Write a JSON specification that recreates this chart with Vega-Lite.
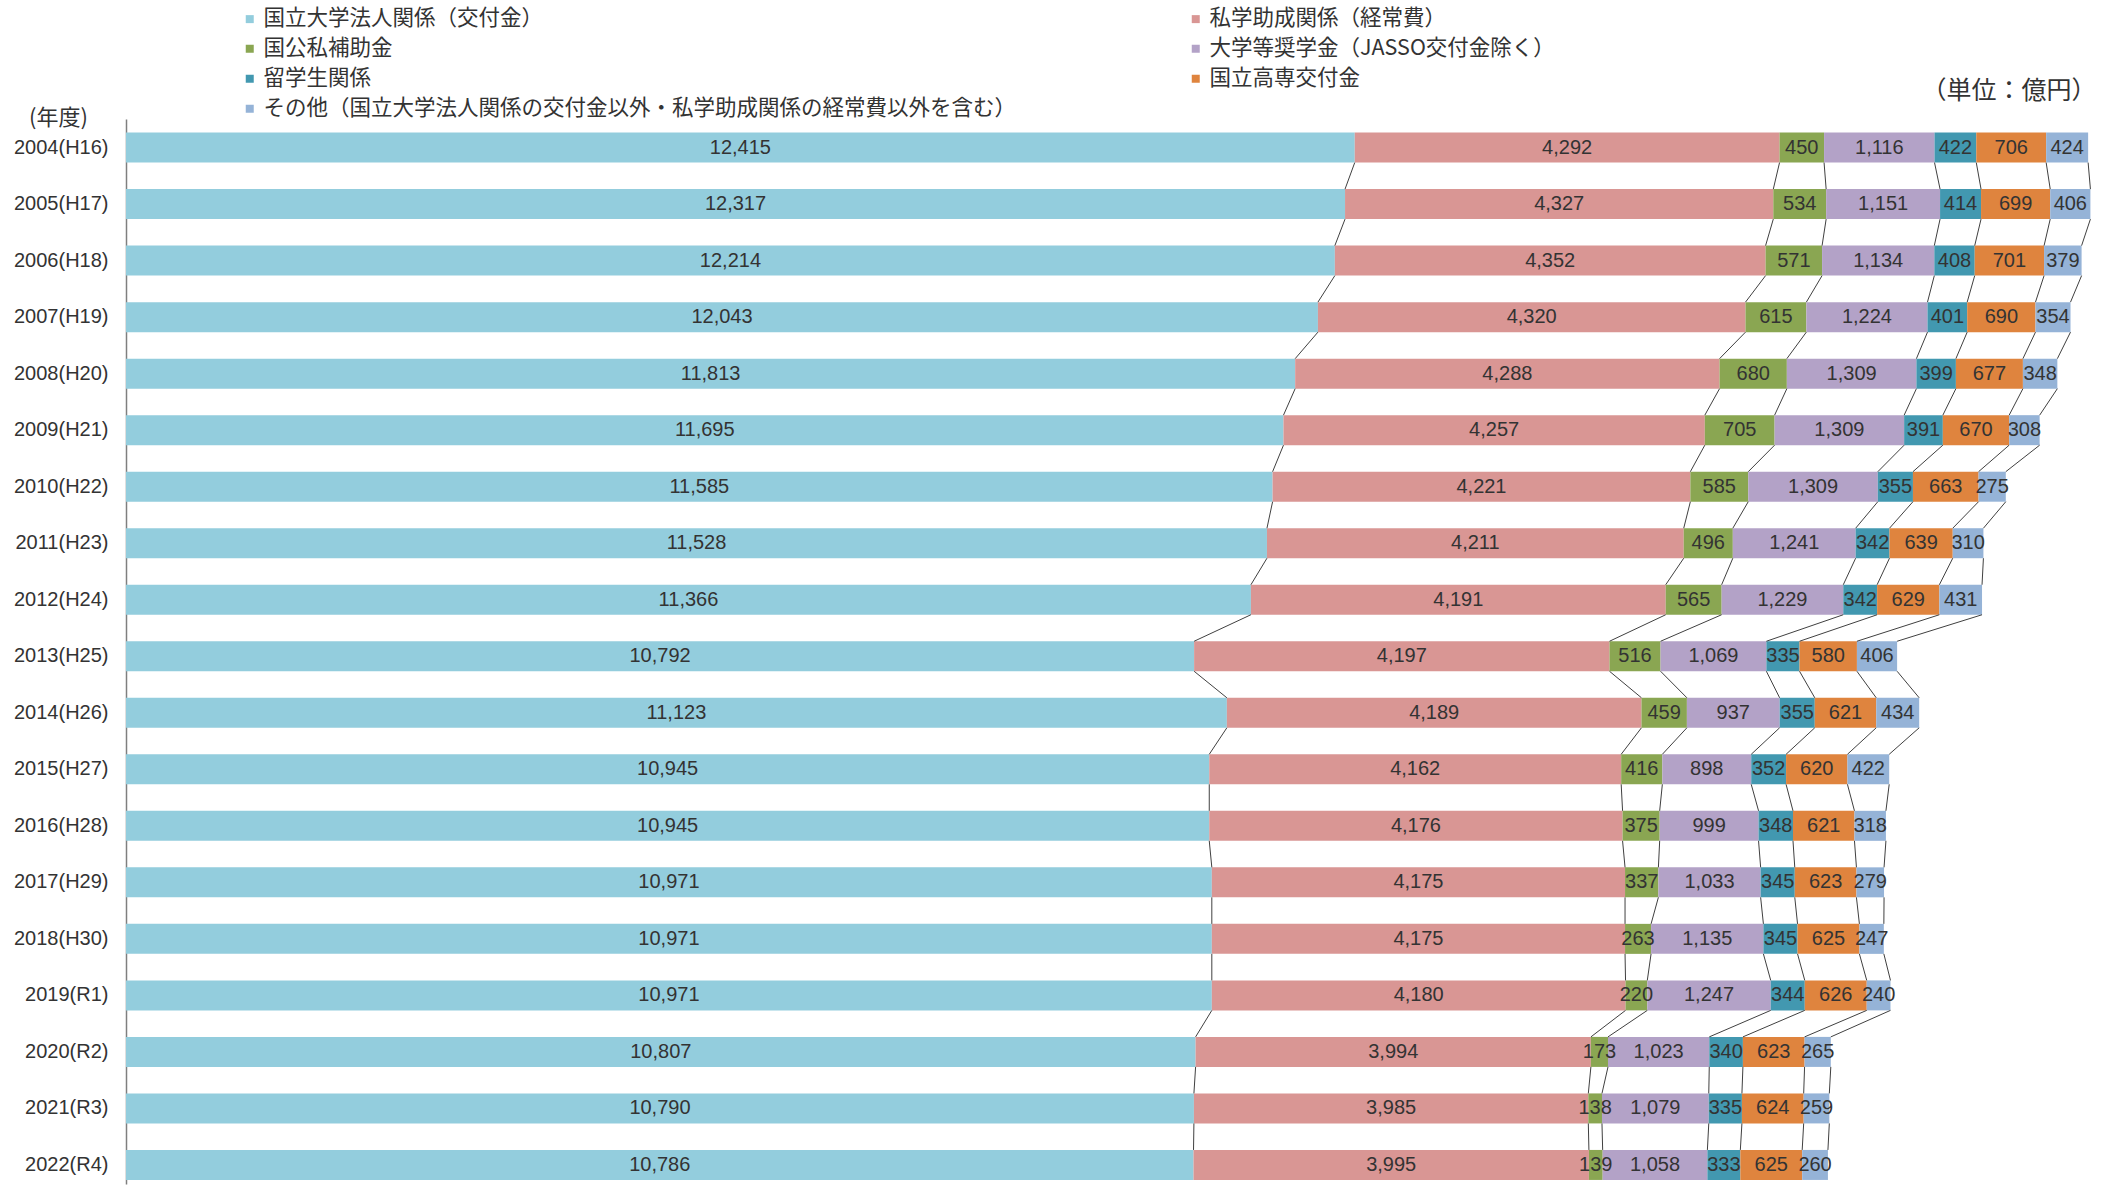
{
  "$schema": "https://vega.github.io/schema/vega-lite/v6.json",
  "autosize": {"type": "none"},
  "width": 1965,
  "height": 1065,
  "padding": {"left": 126, "top": 119, "right": 11, "bottom": 2},
  "background": "white",
  "config": {"view": {"stroke": null}, "font": "Liberation Sans"},
  "datasets": {
    "cats": [
      {"c": 0, "cat": "国立大学法人関係（交付金）"},
      {"c": 1, "cat": "私学助成関係（経常費）"},
      {"c": 2, "cat": "国公私補助金"},
      {"c": 3, "cat": "大学等奨学金（JASSO交付金除く）"},
      {"c": 4, "cat": "留学生関係"},
      {"c": 5, "cat": "国立高専交付金"},
      {"c": 6, "cat": "その他（国立大学法人関係の交付金以外・私学助成関係の経常費以外を含む）"}
    ],
    "rows": [
      {"year": "2004(H16)", "c": 0, "value": 12415}, {"year": "2004(H16)", "c": 1, "value": 4292}, {"year": "2004(H16)", "c": 2, "value": 450}, {"year": "2004(H16)", "c": 3, "value": 1116}, {"year": "2004(H16)", "c": 4, "value": 422}, {"year": "2004(H16)", "c": 5, "value": 706}, {"year": "2004(H16)", "c": 6, "value": 424},
      {"year": "2005(H17)", "c": 0, "value": 12317}, {"year": "2005(H17)", "c": 1, "value": 4327}, {"year": "2005(H17)", "c": 2, "value": 534}, {"year": "2005(H17)", "c": 3, "value": 1151}, {"year": "2005(H17)", "c": 4, "value": 414}, {"year": "2005(H17)", "c": 5, "value": 699}, {"year": "2005(H17)", "c": 6, "value": 406},
      {"year": "2006(H18)", "c": 0, "value": 12214}, {"year": "2006(H18)", "c": 1, "value": 4352}, {"year": "2006(H18)", "c": 2, "value": 571}, {"year": "2006(H18)", "c": 3, "value": 1134}, {"year": "2006(H18)", "c": 4, "value": 408}, {"year": "2006(H18)", "c": 5, "value": 701}, {"year": "2006(H18)", "c": 6, "value": 379},
      {"year": "2007(H19)", "c": 0, "value": 12043}, {"year": "2007(H19)", "c": 1, "value": 4320}, {"year": "2007(H19)", "c": 2, "value": 615}, {"year": "2007(H19)", "c": 3, "value": 1224}, {"year": "2007(H19)", "c": 4, "value": 401}, {"year": "2007(H19)", "c": 5, "value": 690}, {"year": "2007(H19)", "c": 6, "value": 354},
      {"year": "2008(H20)", "c": 0, "value": 11813}, {"year": "2008(H20)", "c": 1, "value": 4288}, {"year": "2008(H20)", "c": 2, "value": 680}, {"year": "2008(H20)", "c": 3, "value": 1309}, {"year": "2008(H20)", "c": 4, "value": 399}, {"year": "2008(H20)", "c": 5, "value": 677}, {"year": "2008(H20)", "c": 6, "value": 348},
      {"year": "2009(H21)", "c": 0, "value": 11695}, {"year": "2009(H21)", "c": 1, "value": 4257}, {"year": "2009(H21)", "c": 2, "value": 705}, {"year": "2009(H21)", "c": 3, "value": 1309}, {"year": "2009(H21)", "c": 4, "value": 391}, {"year": "2009(H21)", "c": 5, "value": 670}, {"year": "2009(H21)", "c": 6, "value": 308},
      {"year": "2010(H22)", "c": 0, "value": 11585}, {"year": "2010(H22)", "c": 1, "value": 4221}, {"year": "2010(H22)", "c": 2, "value": 585}, {"year": "2010(H22)", "c": 3, "value": 1309}, {"year": "2010(H22)", "c": 4, "value": 355}, {"year": "2010(H22)", "c": 5, "value": 663}, {"year": "2010(H22)", "c": 6, "value": 275},
      {"year": "2011(H23)", "c": 0, "value": 11528}, {"year": "2011(H23)", "c": 1, "value": 4211}, {"year": "2011(H23)", "c": 2, "value": 496}, {"year": "2011(H23)", "c": 3, "value": 1241}, {"year": "2011(H23)", "c": 4, "value": 342}, {"year": "2011(H23)", "c": 5, "value": 639}, {"year": "2011(H23)", "c": 6, "value": 310},
      {"year": "2012(H24)", "c": 0, "value": 11366}, {"year": "2012(H24)", "c": 1, "value": 4191}, {"year": "2012(H24)", "c": 2, "value": 565}, {"year": "2012(H24)", "c": 3, "value": 1229}, {"year": "2012(H24)", "c": 4, "value": 342}, {"year": "2012(H24)", "c": 5, "value": 629}, {"year": "2012(H24)", "c": 6, "value": 431},
      {"year": "2013(H25)", "c": 0, "value": 10792}, {"year": "2013(H25)", "c": 1, "value": 4197}, {"year": "2013(H25)", "c": 2, "value": 516}, {"year": "2013(H25)", "c": 3, "value": 1069}, {"year": "2013(H25)", "c": 4, "value": 335}, {"year": "2013(H25)", "c": 5, "value": 580}, {"year": "2013(H25)", "c": 6, "value": 406},
      {"year": "2014(H26)", "c": 0, "value": 11123}, {"year": "2014(H26)", "c": 1, "value": 4189}, {"year": "2014(H26)", "c": 2, "value": 459}, {"year": "2014(H26)", "c": 3, "value": 937}, {"year": "2014(H26)", "c": 4, "value": 355}, {"year": "2014(H26)", "c": 5, "value": 621}, {"year": "2014(H26)", "c": 6, "value": 434},
      {"year": "2015(H27)", "c": 0, "value": 10945}, {"year": "2015(H27)", "c": 1, "value": 4162}, {"year": "2015(H27)", "c": 2, "value": 416}, {"year": "2015(H27)", "c": 3, "value": 898}, {"year": "2015(H27)", "c": 4, "value": 352}, {"year": "2015(H27)", "c": 5, "value": 620}, {"year": "2015(H27)", "c": 6, "value": 422},
      {"year": "2016(H28)", "c": 0, "value": 10945}, {"year": "2016(H28)", "c": 1, "value": 4176}, {"year": "2016(H28)", "c": 2, "value": 375}, {"year": "2016(H28)", "c": 3, "value": 999}, {"year": "2016(H28)", "c": 4, "value": 348}, {"year": "2016(H28)", "c": 5, "value": 621}, {"year": "2016(H28)", "c": 6, "value": 318},
      {"year": "2017(H29)", "c": 0, "value": 10971}, {"year": "2017(H29)", "c": 1, "value": 4175}, {"year": "2017(H29)", "c": 2, "value": 337}, {"year": "2017(H29)", "c": 3, "value": 1033}, {"year": "2017(H29)", "c": 4, "value": 345}, {"year": "2017(H29)", "c": 5, "value": 623}, {"year": "2017(H29)", "c": 6, "value": 279},
      {"year": "2018(H30)", "c": 0, "value": 10971}, {"year": "2018(H30)", "c": 1, "value": 4175}, {"year": "2018(H30)", "c": 2, "value": 263}, {"year": "2018(H30)", "c": 3, "value": 1135}, {"year": "2018(H30)", "c": 4, "value": 345}, {"year": "2018(H30)", "c": 5, "value": 625}, {"year": "2018(H30)", "c": 6, "value": 247},
      {"year": "2019(R1)", "c": 0, "value": 10971}, {"year": "2019(R1)", "c": 1, "value": 4180}, {"year": "2019(R1)", "c": 2, "value": 220}, {"year": "2019(R1)", "c": 3, "value": 1247}, {"year": "2019(R1)", "c": 4, "value": 344}, {"year": "2019(R1)", "c": 5, "value": 626}, {"year": "2019(R1)", "c": 6, "value": 240},
      {"year": "2020(R2)", "c": 0, "value": 10807}, {"year": "2020(R2)", "c": 1, "value": 3994}, {"year": "2020(R2)", "c": 2, "value": 173}, {"year": "2020(R2)", "c": 3, "value": 1023}, {"year": "2020(R2)", "c": 4, "value": 340}, {"year": "2020(R2)", "c": 5, "value": 623}, {"year": "2020(R2)", "c": 6, "value": 265},
      {"year": "2021(R3)", "c": 0, "value": 10790}, {"year": "2021(R3)", "c": 1, "value": 3985}, {"year": "2021(R3)", "c": 2, "value": 138}, {"year": "2021(R3)", "c": 3, "value": 1079}, {"year": "2021(R3)", "c": 4, "value": 335}, {"year": "2021(R3)", "c": 5, "value": 624}, {"year": "2021(R3)", "c": 6, "value": 259},
      {"year": "2022(R4)", "c": 0, "value": 10786}, {"year": "2022(R4)", "c": 1, "value": 3995}, {"year": "2022(R4)", "c": 2, "value": 139}, {"year": "2022(R4)", "c": 3, "value": 1058}, {"year": "2022(R4)", "c": 4, "value": 333}, {"year": "2022(R4)", "c": 5, "value": 625}, {"year": "2022(R4)", "c": 6, "value": 260}
    ]
  },
  "data": {"name": "rows"},
  "transform": [
    {"lookup": "c", "from": {"data": {"name": "cats"}, "key": "c", "fields": ["cat"]}}
  ],
  "encoding": {
    "y": {
      "field": "year",
      "type": "nominal",
      "sort": "ascending",
      "scale": {"paddingInner": 0.4692, "paddingOuter": 0.156, "align": 0.77},
      "axis": {
        "title": "(年度)",
        "titleAngle": 0,
        "titleX": -68,
        "titleY": -2,
        "titleAlign": "center",
        "titleBaseline": "middle",
        "titleFont": "Noto Sans CJK JP",
        "titleFontSize": 22,
        "titleFontWeight": "normal",
        "titleColor": "#333333",
        "labelFont": "Liberation Sans",
        "labelFontSize": 20,
        "labelColor": "#333333",
        "labelPadding": 18,
        "ticks": false,
        "grid": false,
        "domainColor": "#7f7f7f",
        "domainWidth": 1.5
      }
    }
  },
  "layer": [
    {
      "mark": {"type": "bar"},
      "encoding": {
        "x": {
          "field": "value",
          "type": "quantitative",
          "stack": "zero",
          "scale": {"domain": [0, 19854], "nice": false, "zero": true},
          "axis": {
            "orient": "top",
            "labels": false,
            "ticks": false,
            "domain": false,
            "grid": false,
            "title": "（単位：億円）",
            "titleFont": "Noto Sans CJK JP",
            "titleFontSize": 25,
            "titleFontWeight": "normal",
            "titleColor": "#333333",
            "titleAnchor": "end",
            "titleAlign": "right",
            "titleBaseline": "middle",
            "titleX": 1970,
            "titleY": -29
          }
        },
        "color": {
          "field": "cat",
          "type": "nominal",
          "scale": {
            "domain": [
              "国立大学法人関係（交付金）",
              "国公私補助金",
              "留学生関係",
              "その他（国立大学法人関係の交付金以外・私学助成関係の経常費以外を含む）",
              "私学助成関係（経常費）",
              "大学等奨学金（JASSO交付金除く）",
              "国立高専交付金"
            ],
            "range": ["#93CDDD", "#8AA652", "#4298B0", "#95B3D7", "#D99694", "#B3A2C7", "#DF843E"]
          },
          "legend": {
            "orient": "none",
            "legendX": 113,
            "legendY": -111,
            "columns": 2,
            "columnPadding": 168,
            "rowPadding": 7,
            "direction": "vertical",
            "symbolType": "square",
            "symbolSize": 64,
            "symbolStrokeWidth": 0,
            "labelFont": "Noto Sans CJK JP",
            "labelFontSize": 21.5,
            "labelColor": "#333333",
            "labelLimit": 1000,
            "labelOffset": 3,
            "title": null
          }
        },
        "order": {"field": "c", "type": "quantitative"}
      }
    },
    {
      "mark": {"type": "text", "fontSize": 20, "color": "#333333", "font": "Liberation Sans"},
      "encoding": {
        "x": {"field": "value", "type": "quantitative", "stack": "zero", "bandPosition": 0.5},
        "detail": {"field": "cat", "type": "nominal"},
        "order": {"field": "c", "type": "quantitative"},
        "text": {"field": "value", "type": "quantitative", "format": ","}
      }
    },
    {
      "transform": [
        {"stack": "value", "groupby": ["year"], "sort": [{"field": "c", "order": "ascending"}], "as": ["s0", "s1"]},
        {"window": [{"op": "lead", "field": "s1", "as": "n1"}, {"op": "lead", "field": "year", "as": "nyear"}], "groupby": ["c"], "sort": [{"field": "year", "order": "ascending"}]},
        {"filter": "datum.nyear != null"}
      ],
      "mark": {"type": "rule", "color": "#404040", "strokeWidth": 1, "yOffset": 15, "y2Offset": -15},
      "encoding": {
        "x": {"field": "s1", "type": "quantitative"},
        "x2": {"field": "n1"},
        "y2": {"field": "nyear"}
      }
    }
  ]
}
